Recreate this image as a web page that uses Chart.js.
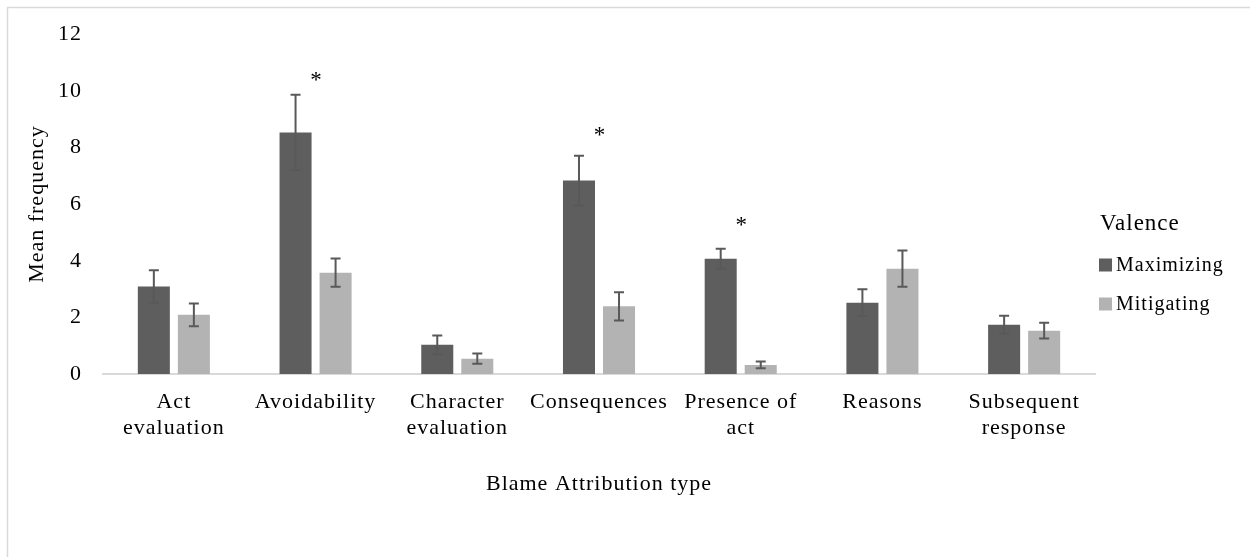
<!DOCTYPE html>
<html>
<head>
<meta charset="utf-8">
<script src="https://cdn.jsdelivr.net/npm/chart.js@4/dist/chart.umd.min.js"></script>
<style>
  html, body { margin: 0; padding: 0; background: #ffffff; }
  canvas { display: block; }
</style>
</head>
<body>
<canvas id="chart" width="1250" height="557"></canvas>
<script>
// Blame attribution categories (multi-line labels as drawn under the axis)
const categories = [
  ['Act', 'evaluation'],
  'Avoidability',
  ['Character', 'evaluation'],
  'Consequences',
  ['Presence of', 'act'],
  'Reasons',
  ['Subsequent', 'response']
];

// Mean frequency per valence
const maximizing = [3.09, 8.53, 1.03, 6.83, 4.07, 2.52, 1.74];
const mitigating = [2.09, 3.58, 0.54, 2.39, 0.32, 3.72, 1.53];

// Error bar half-lengths
const maximizingErr = [0.57, 1.33, 0.33, 0.88, 0.35, 0.47, 0.32];
const mitigatingErr = [0.40, 0.50, 0.18, 0.50, 0.12, 0.64, 0.28];

// Significance markers: category index and the height of the asterisk
const sigCategories = [1, 3, 4];
const sigHeights = [10.5, 8.55, 5.37];

const yTicks = [0, 2, 4, 6, 8, 10, 12];

const FONT = '"Liberation Serif", "Times New Roman", serif';
const DARK = '#5e5e5e';
const LIGHT = '#b3b3b3';

// Outer frame of the chart, plus a touch of letter spacing for all text
const framePlugin = {
  id: 'frame',
  beforeInit(chart) {
    chart.ctx.letterSpacing = '1px';
  },
  beforeDraw(chart) {
    const ctx = chart.ctx;
    ctx.letterSpacing = '1px';
    ctx.save();
    ctx.fillStyle = '#ffffff';
    ctx.fillRect(0, 0, chart.width, chart.height);
    ctx.strokeStyle = '#d9d9d9';
    ctx.lineWidth = 1.5;
    ctx.strokeRect(7.5, 7.5, chart.width + 20, chart.height + 20);
    ctx.restore();
  }
};

// Error bars drawn at each bar's centre
const errorBarPlugin = {
  id: 'errorBars',
  afterDatasetsDraw(chart) {
    const ctx = chart.ctx;
    const y = chart.scales.y;
    const errs = [maximizingErr, mitigatingErr];
    ctx.save();
    ctx.strokeStyle = '#595959';
    ctx.lineWidth = 2;
    chart.data.datasets.forEach((ds, di) => {
      const meta = chart.getDatasetMeta(di);
      meta.data.forEach((bar, i) => {
        const v = ds.data[i];
        const e = errs[di][i];
        const x = bar.x;
        const top = y.getPixelForValue(v + e);
        const bot = y.getPixelForValue(v - e);
        ctx.beginPath();
        ctx.moveTo(x, top);
        ctx.lineTo(x, bot);
        ctx.moveTo(x - 5, top);
        ctx.lineTo(x + 5, top);
        ctx.moveTo(x - 5, bot);
        ctx.lineTo(x + 5, bot);
        ctx.stroke();
      });
    });
    ctx.restore();
  }
};

// Asterisks over categories with a significant difference
const asteriskPlugin = {
  id: 'asterisks',
  afterDatasetsDraw(chart) {
    const ctx = chart.ctx;
    const xs = chart.scales.x;
    const ys = chart.scales.y;
    ctx.save();
    ctx.fillStyle = '#000000';
    ctx.font = '23px ' + FONT;
    ctx.textAlign = 'center';
    ctx.textBaseline = 'middle';
    sigCategories.forEach((c, k) => {
      const x = xs.getPixelForValue(c);
      const yy = ys.getPixelForValue(sigHeights[k]);
      ctx.fillText('*', x + 1, yy + 4);
    });
    ctx.restore();
  }
};

// Legend on the right with a "Valence" heading
const legendPlugin = {
  id: 'valenceLegend',
  afterDraw(chart) {
    const ctx = chart.ctx;
    ctx.save();
    ctx.fillStyle = '#000000';
    ctx.textBaseline = 'middle';
    ctx.textAlign = 'left';
    ctx.font = '23px ' + FONT;
    ctx.fillText('Valence', 1100, 224);
    ctx.font = '20px ' + FONT;
    const rows = [265, 304];
    chart.data.datasets.forEach((ds, i) => {
      ctx.fillStyle = ds.backgroundColor;
      ctx.fillRect(1099, rows[i] - 6.5, 13, 13);
      ctx.fillStyle = '#000000';
      ctx.fillText(ds.label, 1116, rows[i] + 1);
    });
    ctx.restore();
  }
};

new Chart(document.getElementById('chart'), {
  type: 'bar',
  data: {
    labels: categories,
    datasets: [
      { label: 'Maximizing', data: maximizing, backgroundColor: DARK,
        categoryPercentage: 0.565, barPercentage: 0.8 },
      { label: 'Mitigating', data: mitigating, backgroundColor: LIGHT,
        categoryPercentage: 0.565, barPercentage: 0.8 }
    ]
  },
  options: {
    responsive: false,
    animation: false,
    devicePixelRatio: 1,
    layout: { padding: { left: 0, right: 155, top: 32, bottom: 0 } },
    plugins: {
      legend: { display: false },
      tooltip: { enabled: false }
    },
    scales: {
      x: {
        grid: { display: false, drawTicks: false },
        border: { display: true, color: '#d9d9d9', width: 2 },
        ticks: {
          color: '#000000',
          font: { family: FONT, size: 22, lineHeight: 1.15 },
          padding: 16,
          maxRotation: 0,
          autoSkip: false
        },
        title: {
          display: true,
          text: 'Blame Attribution type',
          color: '#000000',
          font: { family: FONT, size: 22, lineHeight: 1.2 },
          padding: { top: 0, bottom: 60 }
        },
        afterFit(scale) { scale.height = 183; }
      },
      y: {
        min: 0,
        max: 12,
        afterBuildTicks(scale) { scale.ticks = yTicks.map(v => ({ value: v })); },
        grid: { display: false, drawTicks: false },
        border: { display: false },
        ticks: {
          color: '#000000',
          font: { family: FONT, size: 22 },
          padding: 21
        },
        title: {
          display: true,
          text: 'Mean frequency',
          color: '#000000',
          font: { family: FONT, size: 22, lineHeight: 1.2 },
          padding: { top: 24, bottom: 0 }
        },
        afterFit(scale) { scale.width = 103; }
      }
    }
  },
  plugins: [framePlugin, errorBarPlugin, asteriskPlugin, legendPlugin]
});
</script>
</body>
</html>
